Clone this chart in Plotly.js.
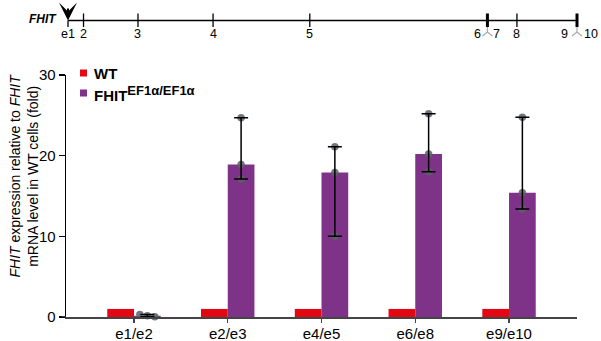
<!DOCTYPE html>
<html>
<head>
<meta charset="utf-8">
<script src="https://cdn.plot.ly/plotly-3.0.1.min.js"></script>
<style>html,body{margin:0;padding:0;background:#fff;}#chart{width:601px;height:341px;}</style>
</head>
<body>
<div id="chart"></div>
<script>
// ---- data ----
const categories = ['e1/e2', 'e2/e3', 'e4/e5', 'e6/e8', 'e9/e10'];
const seriesNames = ['WT', 'FHIT<sup><span style="font-size:13px">EF1α/EF1α</span></sup>'];
const wtValues = [1, 1, 1, 1, 1];
const fhitValues = [0.15, 18.9, 17.9, 20.2, 15.4];
const fhitRep1 = [0.32, 24.7, 21.1, 25.2, 24.75];
const fhitRep2 = [0.15, 18.9, 17.9, 20.2, 15.4];
const fhitRep3 = [0.04, 17.1, 10.0, 18.0, 13.4];
const repJitter1 = [-0.08, 0, 0, 0, 0];
const repJitter2 = [0, 0, 0, 0, 0];
const repJitter3 = [0.08, 0, 0, 0, 0];
const yTicks = [0, 10, 20, 30];

// gene diagram (relative positions along FHIT)
const exonPos = [0, 3.05, 13.75, 28.5, 47.5, 82.4, 88.2, 100];
const exonThick = [false, false, false, false, false, true, false, true];
const exonLabels = ['e1', '2', '3', '4', '5', '6', '8', '9'];
const exonLabelPos = [0, 3.05, 13.75, 28.5, 47.5, 82.4, 88.2, 100];
const exonLabelShift = [0, 0, 0, 0, 0, -10, 0, -13];
const splitLabels = ['7', '10'];
const splitLabelPos = [82.4, 100];
const splitLabelShift = [9, 14];
const splitPos = [82.4, 100];

// ---- styling ----
const RED = '#e30613', PURPLE = '#7e3388';
const FONT = 'Liberation Sans, Arial, sans-serif';
const W = 601, H = 341, ML = 66, MR = 10, MT = 75, MB = 24;
const plotW = W - ML - MR, plotH = H - MT - MB;
const px2paperX = p => (p - ML) / plotW;
const py2paperY = p => (H - MB - p) / plotH;
const barW = 0.285;
const idx = categories.map((_, i) => i);

const traces = [
  {type: 'bar', x: idx, y: wtValues, width: barW, offset: -barW, marker: {color: RED},
   showlegend: false, hoverinfo: 'skip'},
  {type: 'bar', x: idx, y: fhitValues, width: barW, offset: 0, marker: {color: PURPLE},
   showlegend: false, hoverinfo: 'skip'}
];
[[fhitRep1, repJitter1], [fhitRep2, repJitter2], [fhitRep3, repJitter3]].forEach(([rep, jit]) => {
  traces.push({type: 'scatter', mode: 'markers', x: idx.map(i => i + barW / 2 + jit[i]), y: rep,
    marker: {color: 'rgba(92,97,104,0.85)', size: 7.5}, showlegend: false, hoverinfo: 'skip', cliponaxis: false});
});
const hi = idx.map(i => Math.max(fhitRep1[i], fhitRep2[i], fhitRep3[i]));
const lo = idx.map(i => Math.min(fhitRep1[i], fhitRep2[i], fhitRep3[i]));
traces.push({type: 'scatter', mode: 'markers', x: idx.map(i => i + barW / 2), y: fhitValues,
  marker: {color: 'rgba(0,0,0,0)', size: 1}, showlegend: false, hoverinfo: 'skip', cliponaxis: false,
  error_y: {type: 'data', symmetric: false, array: idx.map(i => hi[i] - fhitValues[i]),
    arrayminus: idx.map(i => fhitValues[i] - lo[i]), color: '#000', thickness: 1.5, width: 7}});
// dummy trace to create gene axis
traces.push({type: 'scatter', mode: 'markers', x: exonPos, y: exonPos.map(() => null), xaxis: 'x2', yaxis: 'y',
  showlegend: false, hoverinfo: 'skip'});

const shapes = [];
const annotations = [];
// x axis extension to the left
shapes.push({type: 'line', xref: 'paper', yref: 'y', x0: px2paperX(61), x1: 0, y0: 0, y1: 0,
  line: {color: '#444', width: 1.5}});

// gene diagram
const geneY = py2paperY(20.5);
shapes.push({type: 'line', xref: 'x2', yref: 'paper', x0: exonPos[0], x1: exonPos[exonPos.length - 1],
  y0: geneY, y1: geneY, line: {color: '#000', width: 1.5}});
exonPos.forEach((p, i) => {
  shapes.push({type: 'line', xref: 'x2', yref: 'paper', x0: p, x1: p,
    y0: py2paperY(27), y1: i === 0 ? geneY : py2paperY(13.5),
    line: {color: '#000', width: exonThick[i] ? 3 : 1.3}});
});
splitPos.forEach(p => {
  shapes.push({type: 'path', xref: 'x2', yref: 'paper', xsizemode: 'pixel', ysizemode: 'pixel',
    xanchor: p, yanchor: py2paperY(27),
    path: 'M0,0 L0,-5 L-5,-9 M0,-5 L5,-9', line: {color: '#aaa', width: 1.2}});
});
exonLabels.forEach((t, i) => {
  annotations.push({xref: 'x2', yref: 'paper', x: exonLabelPos[i], y: py2paperY(34), text: t,
    showarrow: false, xanchor: 'center', yanchor: 'middle', xshift: exonLabelShift[i],
    font: {family: FONT, size: 12.5, color: '#000'}});
});
splitLabels.forEach((t, i) => {
  annotations.push({xref: 'x2', yref: 'paper', x: splitLabelPos[i], y: py2paperY(34), text: t,
    showarrow: false, xanchor: 'center', yanchor: 'middle', xshift: splitLabelShift[i],
    font: {family: FONT, size: 12.5, color: '#000'}});
});
annotations.push({xref: 'x2', yref: 'paper', x: exonPos[0], y: geneY, text: '<b><i>FHIT</i></b>',
  showarrow: false, xanchor: 'right', yanchor: 'middle', xshift: -9, yshift: 1,
  font: {family: FONT, size: 12, color: '#000'}});
annotations.push({xref: 'x2', yref: 'paper', x: exonPos[0], y: geneY, text: ' ', showarrow: true,
  ax: 0, ay: -22, arrowhead: 3, arrowsize: 1.5, arrowwidth: 2, arrowcolor: '#000', standoff: 0});

// legend
const legendColors = [RED, PURPLE];
const legendPy = [73, 93];
seriesNames.forEach((n, i) => {
  shapes.push({type: 'rect', xref: 'paper', yref: 'paper', x0: px2paperX(80), x1: px2paperX(87),
    y0: py2paperY(legendPy[i] + 3.5), y1: py2paperY(legendPy[i] - 3.5), fillcolor: legendColors[i],
    line: {width: 0}});
  annotations.push({xref: 'paper', yref: 'paper', x: px2paperX(92), y: py2paperY(legendPy[i]),
    text: '<b>' + n + '</b>', showarrow: false, xanchor: 'left', yanchor: 'middle',
    font: {family: FONT, size: 15, color: '#000'}});
});

// y axis title
annotations.push({xref: 'paper', yref: 'paper', x: px2paperX(23.5), y: py2paperY(176),
  text: '<i>FHIT</i> expression relative to <i>FHIT</i><br>mRNA level in WT cells (fold)',
  textangle: -90, showarrow: false, xanchor: 'center', yanchor: 'middle',
  font: {family: FONT, size: 14, color: '#000'}});

const layout = {
  width: W, height: H,
  margin: {l: ML, r: MR, t: MT, b: MB, pad: 0},
  paper_bgcolor: '#fff', plot_bgcolor: 'rgba(0,0,0,0)',
  showlegend: false,
  barmode: 'overlay',
  font: {family: FONT, color: '#000'},
  xaxis: {domain: [0, (577 - ML) / plotW], range: [-0.725, 4.725], tickmode: 'array', tickvals: idx,
    ticktext: categories, ticks: 'outside', ticklen: 4, tickwidth: 1.3, tickcolor: '#444',
    ticklabelstandoff: -2,
    showline: true, linecolor: '#444', linewidth: 1.5, showgrid: false, zeroline: false,
    tickfont: {family: FONT, size: 15, color: '#000'}, fixedrange: true},
  xaxis2: {domain: [0, 1], range: [-0.393, 102.75], anchor: 'y', visible: false, fixedrange: true},
  yaxis: {range: [0, 30], tickmode: 'array', tickvals: yTicks, ticks: 'outside', ticklen: 6,
    tickwidth: 1.3, tickcolor: '#000', showline: true, linecolor: '#000', linewidth: 1.3,
    showgrid: false, zeroline: false, tickfont: {family: FONT, size: 15, color: '#000'}, fixedrange: true},
  shapes: shapes,
  annotations: annotations
};
Plotly.newPlot('chart', traces, layout, {staticPlot: true, displayModeBar: false});
</script>
</body>
</html>
